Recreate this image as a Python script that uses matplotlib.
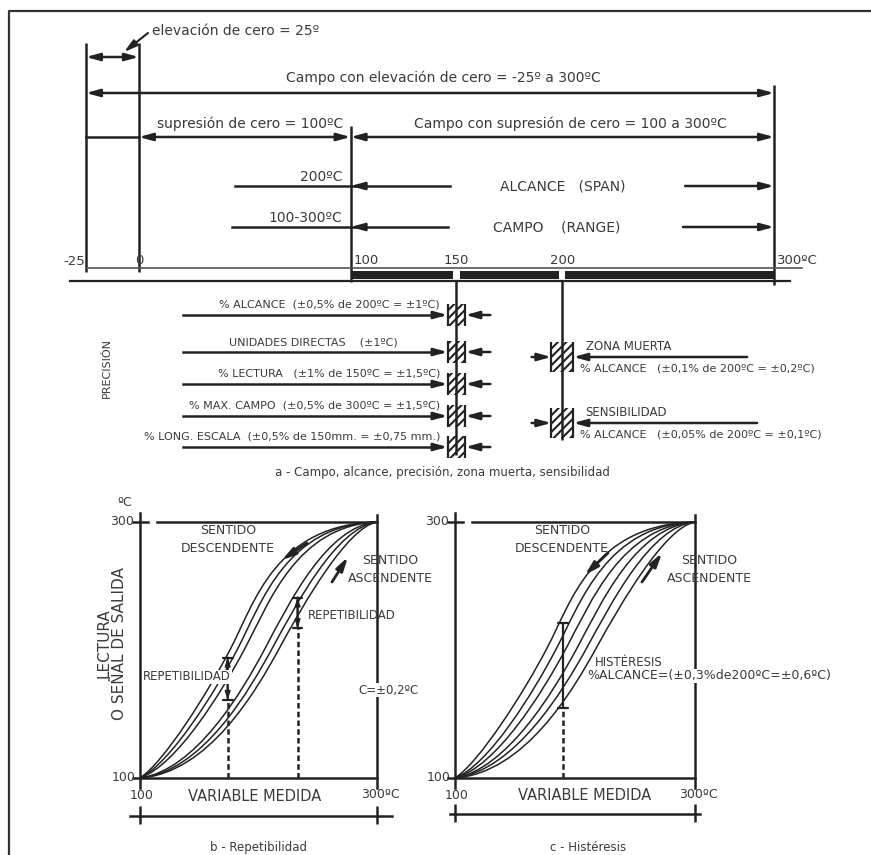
import matplotlib
matplotlib.use('Agg')
import matplotlib.pyplot as plt
from matplotlib.path import Path
from matplotlib.patches import PathPatch, Rectangle

plt.rcParams['font.family'] = ['DejaVu Sans']
plt.rcParams['hatch.linewidth'] = 1.5

C_LIN = '#222222'
C_TXT = '#3a3a3a'

# ---------------- datos ----------------
# escala superior en ºC
escala_t = [-25, 0, 100, 150, 200, 300]
escala_lbl = ['-25', '0', '100', '150', '200', '300ºC']

# precisión (sobre 150 ºC)
prec_lbl = ['% ALCANCE  (±0,5% de 200ºC = ±1ºC)',
            'UNIDADES DIRECTAS    (±1ºC)',
            '% LECTURA   (±1% de 150ºC = ±1,5ºC)',
            '% MAX. CAMPO  (±0,5% de 300ºC = ±1,5ºC)',
            '% LONG. ESCALA  (±0,5% de 150mm. = ±0,75 mm.)']
t_prec = 150

# zona muerta y sensibilidad (sobre 200 ºC)
zona_tit = ['ZONA MUERTA', 'SENSIBILIDAD']
zona_lbl = ['% ALCANCE   (±0,1% de 200ºC = ±0,2ºC)',
            '% ALCANCE   (±0,05% de 200ºC = ±0,1ºC)']
t_zona = 200

# curvas: puntos de control (ºC) de dos tramos Bezier cada una
# b - repetibilidad (3 descendentes + 3 ascendentes)
curvas_b = [
    [(100, 100), (120, 112), (157, 166), (177, 202), (197, 238), (215, 298), (300, 300)],
    [(100, 100), (125, 111), (163, 166), (183, 202), (203, 238), (224, 298), (300, 300)],
    [(100, 100), (131, 110), (169, 167), (189, 202), (209, 237), (232, 297), (300, 300)],
    [(100, 100), (147, 106), (186, 167), (206, 202), (226, 237), (258, 297), (300, 300)],
    [(100, 100), (153, 105), (192, 168), (212, 202), (232, 236), (266, 296), (300, 300)],
    [(100, 100), (158, 104), (198, 168), (218, 202), (238, 236), (275, 296), (300, 300)],
]
rep_x = [174, 233]
rep_y = [(161, 194), (217, 241)]

# c - histéresis
curvas_c = [
    [(100, 100), (120, 112), (157, 166), (177, 202), (197, 238), (215, 298), (300, 300)],
    [(100, 100), (128, 110), (165, 166), (185, 202), (205, 238), (227, 298), (300, 300)],
    [(100, 100), (135, 109), (173, 167), (193, 202), (213, 237), (239, 297), (300, 300)],
    [(100, 100), (143, 107), (182, 167), (202, 202), (222, 237), (251, 297), (300, 300)],
    [(100, 100), (150, 106), (190, 168), (210, 202), (230, 236), (263, 297), (300, 300)],
    [(100, 100), (158, 104), (198, 168), (218, 202), (238, 236), (275, 296), (300, 300)],
]
hist_x = 190
hist_y = (155, 221)


def flecha(ax, x0, y0, x1, y1, estilo='-|>', lw=1.8, ms=10):
    ax.annotate('', xy=(x1, y1), xytext=(x0, y0),
                arrowprops=dict(arrowstyle=estilo + ',head_length=0.8,head_width=0.22',
                                lw=lw, color=C_LIN, shrinkA=0, shrinkB=0,
                                mutation_scale=ms))


def cota(ax, x0, y0, x1, y1, lw=1.6):
    ax.annotate('', xy=(x1, y1), xytext=(x0, y0),
                arrowprops=dict(arrowstyle='|-|,widthA=0.35,widthB=0.35',
                                lw=lw, color=C_LIN, shrinkA=0, shrinkB=0,
                                mutation_scale=10))


def txt(ax, x, y, s, size=9, ha='left', **kw):
    ax.text(x, y, s, fontsize=size, ha=ha, va='center', color=C_TXT, **kw)


fig = plt.figure(figsize=(8.71, 8.55), dpi=100)

# ================= a - parte superior (x en ºC, y en píxeles) =================
ax = fig.add_axes([0, 0, 1, 1])
ax.set_xlim(-65.6, 345.8)
ax.set_ylim(855, 0)
ax.axis('off')

# marco
ax.plot([-61.4, -61.4, 345.8], [855, 11, 11], color='#333333', lw=1.6)

# verticales
ax.vlines([-25, 0], 43, 272, color=C_LIN, lw=1.8)
ax.vlines(100, 126, 282, color=C_LIN, lw=1.8)
ax.vlines(300, 85, 285, color=C_LIN, lw=1.8)
ax.vlines([150, 200], 281, [455, 440], color=C_LIN, lw=1.8)

# elevación de cero
flecha(ax, -25, 57, 0, 57, '<|-|>')
txt(ax, 6.2, 31, 'elevación de cero = 25º', 10)
flecha(ax, 4.3, 33, -7, 52, '-|>', lw=1.5)

txt(ax, 143.7, 78, 'Campo con elevación de cero = -25º a 300ºC', 10, ha='center')
flecha(ax, -25, 93, 300, 93, '<|-|>')

txt(ax, 8.6, 124, 'supresión de cero = 100ºC', 10)
txt(ax, 203.6, 124, 'Campo con supresión de cero = 100 a 300ºC', 10, ha='center')
ax.plot([-25, 0], [137, 137], color=C_LIN, lw=1.8)
flecha(ax, 0, 137, 100, 137, '<|-|>')
flecha(ax, 100, 137, 300, 137, '<|-|>')

# alcance / campo
filas = [(186, '200ºC', 'ALCANCE   (SPAN)', 200.3, 45.4, 147, 258),
         (227, '100-300ºC', 'CAMPO    (RANGE)', 197.5, 44, 146, 257)]
for y, izq, cen, xc, a0, a1, b0 in filas:
    txt(ax, 96, y - 9, izq, 10, ha='right')
    txt(ax, xc, y, cen, 10, ha='center')
    ax.plot([a0, a1], [y, y], color=C_LIN, lw=1.8)
    flecha(ax, 106, y, 100, y)
    flecha(ax, b0, y, 300, y)

# escala
for t, s in zip(escala_t, escala_lbl):
    if t == -25:
        txt(ax, t - 0.5, 261, s, 9.5, ha='right')
    elif t in (100, 300):
        txt(ax, t + 1.5, 260, s, 9.5, ha='left')
    else:
        txt(ax, t, 260, s, 9.5, ha='center')
ax.plot([-25, 313], [268, 268], color='#555555', lw=1.2)
ax.plot([-32.6, 307.6], [281, 281], color=C_LIN, lw=1.6)
for a, b in [(100, 150), (150, 200), (200, 300)]:
    ax.fill_between([a + (1.5 if a > 100 else 0), b - (1.5 if b < 300 else 0)],
                    271, 279, color=C_LIN, lw=0)

# precisión
prec_y = [315, 352, 384, 416, 447]
for i, (y, s) in enumerate(zip(prec_y, prec_lbl)):
    hw, hh = 4.2, 11
    ax.add_patch(Rectangle((t_prec - hw, y - hh), 2 * hw, 2 * hh, hatch='////',
                           fill=False, lw=0, edgecolor=C_LIN))
    ax.vlines([t_prec - hw, t_prec + hw], y - hh, y + hh, color=C_LIN, lw=1.6)
    ax.plot([20.8, t_prec - hw - 3], [y, y], color=C_LIN, lw=1.8)
    flecha(ax, t_prec - hw - 5, y, t_prec - hw, y)
    flecha(ax, 166, y, t_prec + hw, y)
    if i == 1:
        txt(ax, 82.6, y - 10, s, 8, ha='center')
    else:
        txt(ax, 142.2, y - 11, s, 8, ha='right')
ax.text(-15, 368, 'PRECISIÓN', fontsize=8, rotation=90, ha='center', va='center',
        color=C_TXT)

# zona muerta / sensibilidad
zona_y = [357, 423]
for y, tit, s, xl in zip(zona_y, zona_tit, zona_lbl, [287.3, 292]):
    hw, hh = 5.2, 15
    ax.add_patch(Rectangle((t_zona - hw, y - hh), 2 * hw, 2 * hh, hatch='////',
                           fill=False, lw=0, edgecolor=C_LIN))
    ax.vlines([t_zona - hw, t_zona + hw], y - hh, y + hh, color=C_LIN, lw=1.6)
    flecha(ax, 185.5, y, t_zona - hw, y)
    flecha(ax, xl, y, t_zona + hw, y)
    txt(ax, t_zona + 11, y - 11, tit, 8.5)
    txt(ax, t_zona + 8.5, y + 11, s, 8)

txt(ax, 143.2, 472, 'a - Campo, alcance, precisión, zona muerta, sensibilidad', 8.5,
    ha='center')


# ================= b y c - curvas =================
def grafico(xlim, curvas):
    a = fig.add_axes([0, 0, 1, 1])
    a.set_xlim(*xlim)
    a.set_ylim(39.84, 707.8)
    a.axis('off')
    a.set_facecolor('none')
    # ejes
    a.plot([100, 100], [92, 307], color=C_LIN, lw=1.8)
    a.plot([100, 300], [100, 100], color=C_LIN, lw=1.8)
    a.plot([300, 300], [92, 305.5], color=C_LIN, lw=1.8)
    a.plot([94, 106.5], [300, 300], color=C_LIN, lw=1.8)
    a.plot([94, 100], [100, 100], color=C_LIN, lw=1.8)
    a.plot([114, 300], [300, 300], color=C_LIN, lw=1.8)
    txt(a, 95, 300, '300', 9, ha='right')
    txt(a, 96, 100, '100', 9, ha='right')
    # curvas
    codigos = [Path.MOVETO] + [Path.CURVE4] * 6
    for pts in curvas:
        a.add_patch(PathPatch(Path(pts, codigos), fill=False, edgecolor=C_LIN, lw=1.1))
    # eje x
    txt(a, 101.5, 86, '100', 9, ha='center')
    txt(a, 303, 87, '300ºC', 9, ha='center')
    return a


# b - repetibilidad
axb = grafico((-18.14, 716.9), curvas_b)
txt(axb, 197, 85.5, 'VARIABLE MEDIDA', 10.5, ha='center')
axb.plot([91.6, 312.7], [70.3, 70.3], color=C_LIN, lw=1.8)
axb.vlines([100, 300], 64, 78, color=C_LIN, lw=1.8)
txt(axb, 199.6, 46, 'b - Repetibilidad', 8.5, ha='center')
txt(axb, 87.3, 315, 'ºC', 9, ha='center')
axb.text(76, 205, 'LECTURA\nO SEÑAL DE SALIDA', fontsize=11, rotation=90,
         ha='center', va='center', color=C_TXT, linespacing=1.0)
for x, (y0, y1) in zip(rep_x, rep_y):
    axb.plot([x, x], [100, y0], color=C_LIN, lw=1.8, ls=(0, (2.2, 1.3)))
    cota(axb, x, y0, x, y1)
    axb.annotate('', xy=(x, y0), xytext=(x, y1),
                 arrowprops=dict(arrowstyle='<|-|>,head_length=0.6,head_width=0.2',
                                 lw=1.2, color=C_LIN, shrinkA=0, shrinkB=0,
                                 mutation_scale=8))
txt(axb, 174.3, 293, 'SENTIDO', 9, ha='center')
txt(axb, 174.3, 279.5, 'DESCENDENTE', 9, ha='center')
txt(axb, 311, 270, 'SENTIDO', 9, ha='center')
txt(axb, 311, 256, 'ASCENDENTE', 9, ha='center')
flecha(axb, 240.9, 283.6, 219.8, 270.3, lw=2)
flecha(axb, 262, 253.1, 275.5, 272.7, lw=2)
txt(axb, 241.8, 227.3, 'REPETIBILIDAD', 8.5)
txt(axb, 102.5, 179, 'REPETIBILIDAD', 8.5,
    bbox=dict(facecolor='white', edgecolor='none', pad=0.5))
txt(axb, 284, 168.7, 'C=±0,2ºC', 8.5,
    bbox=dict(facecolor='white', edgecolor='none', pad=0.5))

# c - histéresis
axc = grafico((-279.2, 446.7), curvas_c)
txt(axc, 208.3, 86.7, 'VARIABLE MEDIDA', 10.5, ha='center')
axc.plot([95.8, 304], [71.9, 71.9], color=C_LIN, lw=1.8)
axc.vlines([100, 300], 65.5, 79.5, color=C_LIN, lw=1.8)
txt(axc, 210.8, 46, 'c - Histéresis', 8.5, ha='center')
axc.plot([hist_x, hist_x], [100, hist_y[0]], color=C_LIN, lw=1.8, ls=(0, (2.2, 1.3)))
cota(axc, hist_x, hist_y[0], hist_x, hist_y[1])
txt(axc, 189.2, 293, 'SENTIDO', 9, ha='center')
txt(axc, 189.2, 279.5, 'DESCENDENTE', 9, ha='center')
txt(axc, 311.7, 270, 'SENTIDO', 9, ha='center')
txt(axc, 311.7, 256, 'ASCENDENTE', 9, ha='center')
flecha(axc, 227.5, 275.8, 208.3, 258.6, lw=2)
flecha(axc, 255.8, 253.1, 272.5, 275.8, lw=2)
txt(axc, 216.7, 190.6, 'HISTÉRESIS', 8.5,
    bbox=dict(facecolor='white', edgecolor='none', pad=0.3))
txt(axc, 210, 179.7, '%ALCANCE=(±0,3%de200ºC=±0,6ºC)', 9,
    bbox=dict(facecolor='white', edgecolor='none', pad=0.3))

fig.savefig('out.png', dpi=100)
